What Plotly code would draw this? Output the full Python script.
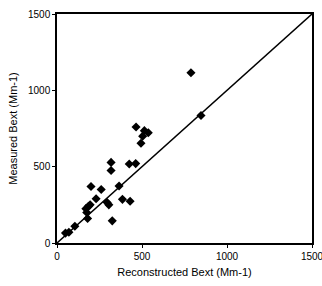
import plotly.graph_objects as go

reconstructed = [50, 70, 105, 170, 175, 180, 185, 195, 200, 230, 260, 295, 305, 325,
                 318, 318, 365, 385, 430, 425, 463, 465, 494, 504, 514, 537, 788, 847]
measured = [65, 70, 110, 225, 200, 160, 240, 250, 370, 290, 350, 265, 250, 145,
            475, 528, 373, 286, 273, 517, 520, 760, 653, 700, 736, 722, 1115, 835]
line_vals = [0, 1500]
tick_vals = [0, 500, 1000, 1500]

fig = go.Figure()
fig.add_trace(go.Scatter(x=line_vals, y=line_vals, mode="lines",
                         line=dict(color="black", width=1.5), hoverinfo="skip"))
fig.add_trace(go.Scatter(x=reconstructed, y=measured, mode="markers",
                         marker=dict(symbol="diamond", size=7, color="black")))

axis_common = dict(range=[0, 1500], tickvals=tick_vals, showgrid=False, zeroline=False,
                   showline=True, linecolor="black", linewidth=1.5, mirror=True,
                   ticks="outside", ticklen=3, tickcolor="black", automargin=False,
                   ticklabeloverflow="allow",
                   tickfont=dict(family="Liberation Sans, Arial", size=10, color="black"))

fig.update_layout(
    width=322, height=286,
    margin=dict(l=57, r=10, t=14, b=43),
    paper_bgcolor="white", plot_bgcolor="white",
    showlegend=False,
    xaxis=dict(**axis_common,
               title=dict(text="Reconstructed Bext (Mm-1)", standoff=8,
                          font=dict(family="Liberation Sans, Arial", size=11, color="black"))),
    yaxis=dict(**axis_common,
               title=dict(text="Measured Bext (Mm-1)", standoff=8,
                          font=dict(family="Liberation Sans, Arial", size=11, color="black"))),
)
fig.write_html("out.html", config={"displayModeBar": False},
               post_script="document.body.style.margin='0';document.body.style.overflow='hidden';")
